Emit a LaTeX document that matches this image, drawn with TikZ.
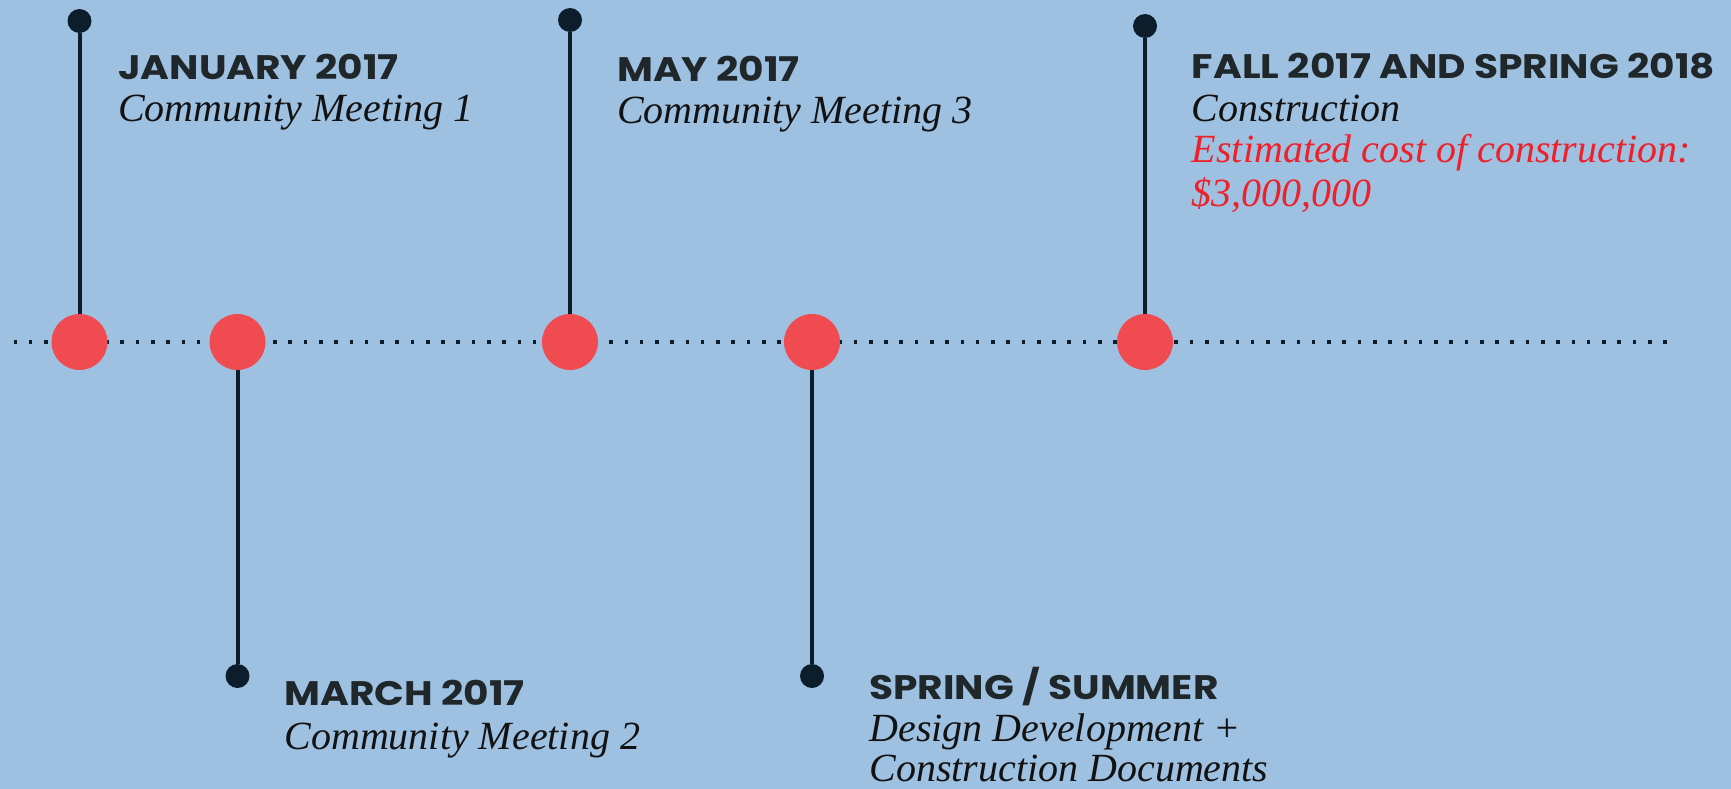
\documentclass[tikz,border=0pt]{standalone}
\usepackage{fontspec}
\setmainfont{Liberation Serif}
\newfontfamily\headfont{Poppins}[FakeStretch=1.15]
\definecolor{bgc}{HTML}{9EC1E2}
\definecolor{redc}{HTML}{F04B51}
\definecolor{navyc}{HTML}{0C1D2B}
\definecolor{headc}{HTML}{20272A}
\definecolor{bodyc}{HTML}{121212}
\definecolor{redtext}{HTML}{EE2029}
\begin{document}
\begin{tikzpicture}[x=1pt,y=-1pt,
  hd/.style={anchor=base west,inner sep=0,font=\headfont\bfseries\fontsize{34}{40}\selectfont,text=headc},
  bd/.style={anchor=base west,inner sep=0,font=\itshape\fontsize{40}{43}\selectfont,text=bodyc},
  rd/.style={bd,text=redtext},
  ev/.style={circle,fill=redc,minimum size=56pt,inner sep=0},
  pinhead/.style={circle,fill=navyc,minimum size=24pt,inner sep=0},
  stem/.style={draw=navyc,line width=4pt}]
\fill[bgc] (0,0) rectangle (1731,789);
\useasboundingbox (0,0) rectangle (1731,789);
% timeline
\coordinate (ts) at (13.5,342);
\coordinate (te) at (1668,342);
\draw[navyc,line width=3.6pt,dash pattern=on 3.6pt off 11.675pt] (ts) -- (te);
% events
\node[ev] (c1) at (79.5,342) {};
\node[ev] (c2) at (237.5,342) {};
\node[ev] (c3) at (570,342) {};
\node[ev] (c4) at (812,342) {};
\node[ev] (c5) at (1145,342) {};
\node[pinhead] (p1) at (79.5,21) {};
\node[pinhead] (p2) at (237.5,676) {};
\node[pinhead] (p3) at (570,20) {};
\node[pinhead] (p4) at (812,676) {};
\node[pinhead] (p5) at (1145,26) {};
\draw[stem] (p1) -- (c1);
\draw[stem] (p2) -- (c2);
\draw[stem] (p3) -- (c3);
\draw[stem] (p4) -- (c4);
\draw[stem] (p5) -- (c5);
% texts
\node[hd] (h1) at (118,79.3) {JANUARY 2017};
\node[bd] (b1) at (118,121.7) {Community Meeting 1};
\node[hd] (h3) at (617,81.7) {MAY 2017};
\node[bd] (b3) at (617,123.3) {Community Meeting 3};
\node[hd] (h5) at (1191.7,78.3) {FALL 2017 AND SPRING 2018};
\node[bd] (b5) at (1191.7,121.7) {Construction};
\node[rd] (r5a) at (1191.7,162.7) {Estimated cost of construction:};
\node[rd] (r5b) at (1191.7,206.7) {\$3,000,000};
\node[hd] (h2) at (284.3,705.7) {MARCH 2017};
\node[bd] (b2) at (284.3,749.3) {Community Meeting 2};
\node[hd] (h4) at (869.3,699) {SPRING / SUMMER};
\node[bd] (b4a) at (869.3,741.7) {Design Development +};
\node[bd] (b4b) at (869.3,781.7) {Construction Documents};
\end{tikzpicture}
\end{document}
